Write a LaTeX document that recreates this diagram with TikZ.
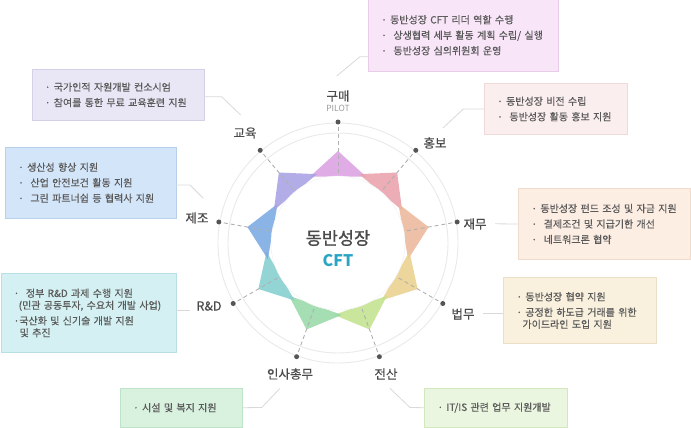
\documentclass[tikz,border=0pt]{standalone}
\usepackage{fontspec}
\setmainfont{Noto Sans CJK KR}
\newfontfamily\cftfont{Noto Sans CJK KR}[FakeBold=0.35]
\newfontfamily\cfttitlefont{Noto Sans CJK KR}[FakeBold=1.1]
\usepackage{xcolor}
\usetikzlibrary{positioning}
\definecolor{cfttextcol}{HTML}{5A5A5A}
\definecolor{cftlabelcol}{HTML}{4A4A4A}
\definecolor{cftpilotcol}{HTML}{9A9A9A}
\definecolor{cftteal}{HTML}{2AA5C5}
\definecolor{cftringcol}{HTML}{E9E9E9}
\definecolor{cftspokecol}{HTML}{B0B0B0}
\definecolor{cftdotcol}{HTML}{555555}
\definecolor{cftlinkcol}{HTML}{D9D9D9}
\definecolor{petalbuy}{HTML}{DBA0E3}
\definecolor{petalpr}{HTML}{E9A2AD}
\definecolor{petalfin}{HTML}{EAB79B}
\definecolor{petallaw}{HTML}{EAD08E}
\definecolor{petalit}{HTML}{C2E28E}
\definecolor{petalhr}{HTML}{97D9A7}
\definecolor{petalrnd}{HTML}{84CECE}
\definecolor{petalmfg}{HTML}{7AA9E3}
\definecolor{petaledu}{HTML}{A7A2E2}
\definecolor{boxbuy}{HTML}{F8E6F8}
\definecolor{linebuy}{HTML}{E8CDE8}
\definecolor{boxpr}{HTML}{FBEEEE}
\definecolor{linepr}{HTML}{EFD9D9}
\definecolor{boxfin}{HTML}{FDEEE4}
\definecolor{linefin}{HTML}{F0DCCF}
\definecolor{boxlaw}{HTML}{F9F1DE}
\definecolor{linelaw}{HTML}{EBE0C5}
\definecolor{boxit}{HTML}{EAF6DF}
\definecolor{lineit}{HTML}{D3E8BF}
\definecolor{boxhr}{HTML}{D8F2DF}
\definecolor{linehr}{HTML}{BEE3C8}
\definecolor{boxrnd}{HTML}{D4F0F2}
\definecolor{linernd}{HTML}{B9DEE3}
\definecolor{boxmfg}{HTML}{D3E5F8}
\definecolor{linemfg}{HTML}{B8D1EB}
\definecolor{boxedu}{HTML}{E9E7F6}
\definecolor{lineedu}{HTML}{D3D0E8}
\tikzset{
    cftring/.style={draw=cftringcol, line width=0.9pt},
    cftspoke/.style={draw=cftspokecol, dash pattern=on 4pt off 3pt, line width=0.9pt},
    cftpetal/.style={fill opacity=0.88},
    cftdot/.style={circle, fill=cftdotcol, minimum size=5pt, inner sep=0pt},
    cftlabel/.style={font=\cftfont\fontsize{12.5}{14}\selectfont, text=cftlabelcol},
    cftpilot/.style={font=\fontsize{8.5}{10}\selectfont, text=cftpilotcol},
    cftbox/.style={draw, anchor=north west, align=left, inner xsep=13pt, inner ysep=0pt, font=\cftfont\fontsize{10}{15.5}\selectfont, text=cfttextcol},
    cftlink/.style={draw=cftlinkcol, line width=0.8pt}
}

\begin{document}
\begin{tikzpicture}[x=1pt, y=-1pt]
    \useasboundingbox (0,0) rectangle (691,428);
    \coordinate (hub) at (338,243);

    % rings, petals and spokes
    \begin{scope}[shift={(hub)}, yscale=-1]
        \draw[cftring] (0,0) circle (120pt);
        \draw[cftring] (0,0) circle (110pt);
        \fill[cftpetal, petalbuy] (113:72) -- (90:92) -- (67:72) -- cycle;
        \fill[cftpetal, petalpr] (73:72) -- (50:92) -- (27:72) -- cycle;
        \fill[cftpetal, petalfin] (33:72) -- (10:92) -- (-13:72) -- cycle;
        \fill[cftpetal, petallaw] (-7:72) -- (-30:92) -- (-53:72) -- cycle;
        \fill[cftpetal, petalit] (-47:72) -- (-70:92) -- (-93:72) -- cycle;
        \fill[cftpetal, petalhr] (-87:72) -- (-110:92) -- (-133:72) -- cycle;
        \fill[cftpetal, petalrnd] (-127:72) -- (-150:92) -- (-173:72) -- cycle;
        \fill[cftpetal, petalmfg] (193:72) -- (170:92) -- (147:72) -- cycle;
        \fill[cftpetal, petaledu] (153:72) -- (130:92) -- (107:72) -- cycle;
        \node[cftdot] (dotbuy) at (90:121) {};
        \node[cftdot] (dotpr) at (50:121) {};
        \node[cftdot] (dotfin) at (10:121) {};
        \node[cftdot] (dotlaw) at (-30:121) {};
        \node[cftdot] (dotit) at (-70:121) {};
        \node[cftdot] (dothr) at (-110:121) {};
        \node[cftdot] (dotrnd) at (-150:121) {};
        \node[cftdot] (dotmfg) at (170:121) {};
        \node[cftdot] (dotedu) at (130:121) {};
    \end{scope}
    \draw[cftspoke] (hub) -- (dotbuy);
    \draw[cftspoke] (hub) -- (dotpr);
    \draw[cftspoke] (hub) -- (dotfin);
    \draw[cftspoke] (hub) -- (dotlaw);
    \draw[cftspoke] (hub) -- (dotit);
    \draw[cftspoke] (hub) -- (dothr);
    \draw[cftspoke] (hub) -- (dotrnd);
    \draw[cftspoke] (hub) -- (dotmfg);
    \draw[cftspoke] (hub) -- (dotedu);
    \fill[white, draw=gray!12] (hub) circle (67pt);
    \node[font=\cfttitlefont\fontsize{17.5}{20}\selectfont, text=cftlabelcol] (hubtitle) at (338,238) {동반성장};
    \node[font=\bfseries\fontsize{16}{18}\selectfont, text=cftteal] (hubsub) at (338,261) {CFT};

    % spoke labels
    \node[cftlabel] (labbuy) at (338,96) {구매};
    \node[cftpilot] (labpilot) at (338,108) {PILOT};
    \node[cftlabel] (labpr) at (435,143) {홍보};
    \node[cftlabel] (labfin) at (475,224) {재무};
    \node[cftlabel] (lablaw) at (463,314) {법무};
    \node[cftlabel] (labit) at (386,374) {전산};
    \node[cftlabel] (labhr) at (290,374) {인사총무};
    \node[cftlabel] (labrnd) at (209,306) {R\&D};
    \node[cftlabel] (labmfg) at (197,218) {제조};
    \node[cftlabel] (labedu) at (245,133) {교육};

    % boxes
    \node[cftbox, fill=boxbuy, draw=linebuy, text width=164pt, minimum height=72pt] (buybox) at (368,-1)
        {· 동반성장 CFT 리더 역할 수행\\·\ \ 상생협력 세부 활동 계획 수립/ 실행\\·\ \ 동반성장 심의위원회 운영};
    \node[cftbox, fill=boxpr, draw=linepr, text width=116.7pt, minimum height=51pt] (prbox) at (484,83.3)
        {· 동반성장 비전 수립\\·\ \ 동반성장 활동 홍보 지원};
    \node[cftbox, fill=boxfin, draw=linefin, text width=145.7pt, minimum height=71pt] (finbox) at (518.3,188.3)
        {· 동반성장 펀드 조성 및 자금 지원\\·\ \ 결제조건 및 지급기한 개선\\·\ \ 네트워크론 협약};
    \node[cftbox, fill=boxlaw, draw=linelaw, text width=126.4pt, minimum height=66pt] (lawbox) at (503.3,277.3)
        {· 동반성장 협약 지원\\· 공정한 하도급 거래를 위한\\[-3.5pt]\hspace*{6pt}가이드라인 도입 지원};
    \node[cftbox, fill=boxit, draw=lineit, text width=116.4pt, minimum height=38.4pt] (itbox) at (424.3,388.3)
        {· IT/IS 관련 업무 지원개발};
    \node[cftbox, fill=boxhr, draw=linehr, text width=96.3pt, minimum height=38.4pt] (hrbox) at (120,388.3)
        {· 시설 및 복지 지원};
    \node[cftbox, fill=boxrnd, draw=linernd, text width=149.2pt, minimum height=79pt] (rndbox) at (0.5,273.3)
        {·\ \ 정부 R\&D 과제 수행 지원\\[-3.5pt]\hspace*{5pt}(민관 공동투자, 수요처 개발 사업)\\·국산화 및 신기술 개발 지원\\[-3.5pt]\hspace*{6pt}및 추진};
    \node[cftbox, fill=boxmfg, draw=linemfg, text width=144.7pt, minimum height=71.6pt] (mfgbox) at (5,146.7)
        {· 생산성 향상 지원\\·\ \ 산업 안전보건 활동 지원\\·\ \ 그린 파트너쉽 등 협력사 지원};
    \node[cftbox, fill=boxedu, draw=lineedu, text width=146.6pt, minimum height=50.7pt] (edubox) at (31.7,69.3)
        {· 국가인적 자원개발 컨소시엄\\· 참여를 통한 무료 교육훈련 지원};

    % connectors
    \coordinate (buyend) at (336.7,76);
    \coordinate (buyknee) at (360,56.7);
    \draw[cftlink] (buyend) -- (buyknee) -- (buyknee -| buybox.west);
    \coordinate (prend) at (443,128);
    \coordinate (prknee) at (463.3,109);
    \draw[cftlink] (prend) -- (prknee) -- (prbox.west);
    \coordinate (finend) at (495,223.8);
    \draw[cftlink] (finend) -- (finbox.west);
    \coordinate (lawend) at (483.3,313.3);
    \draw[cftlink] (lawend) -- (lawend -| lawbox.west);
    \coordinate (itend) at (390,388.3);
    \coordinate (itknee) at (410,407.5);
    \draw[cftlink] (itend) -- (itknee) -- (itbox.west);
    \coordinate (hrend) at (280,388.3);
    \coordinate (hrknee) at (261.7,407.5);
    \draw[cftlink] (hrend) -- (hrknee) -- (hrbox.east);
    \coordinate (rndend) at (190,310);
    \draw[cftlink] (rndend) -- (rndend -| rndbox.east);
    \coordinate (mfgend) at (203.3,198.3);
    \coordinate (mfgknee) at (190,185);
    \draw[cftlink] (mfgend) -- (mfgknee) -- (mfgknee -| mfgbox.east);
    \coordinate (eduend) at (240.7,115);
    \coordinate (eduknee) at (221.7,96.7);
    \draw[cftlink] (eduend) -- (eduknee) -- (eduknee -| edubox.east);
\end{tikzpicture}
\end{document}
